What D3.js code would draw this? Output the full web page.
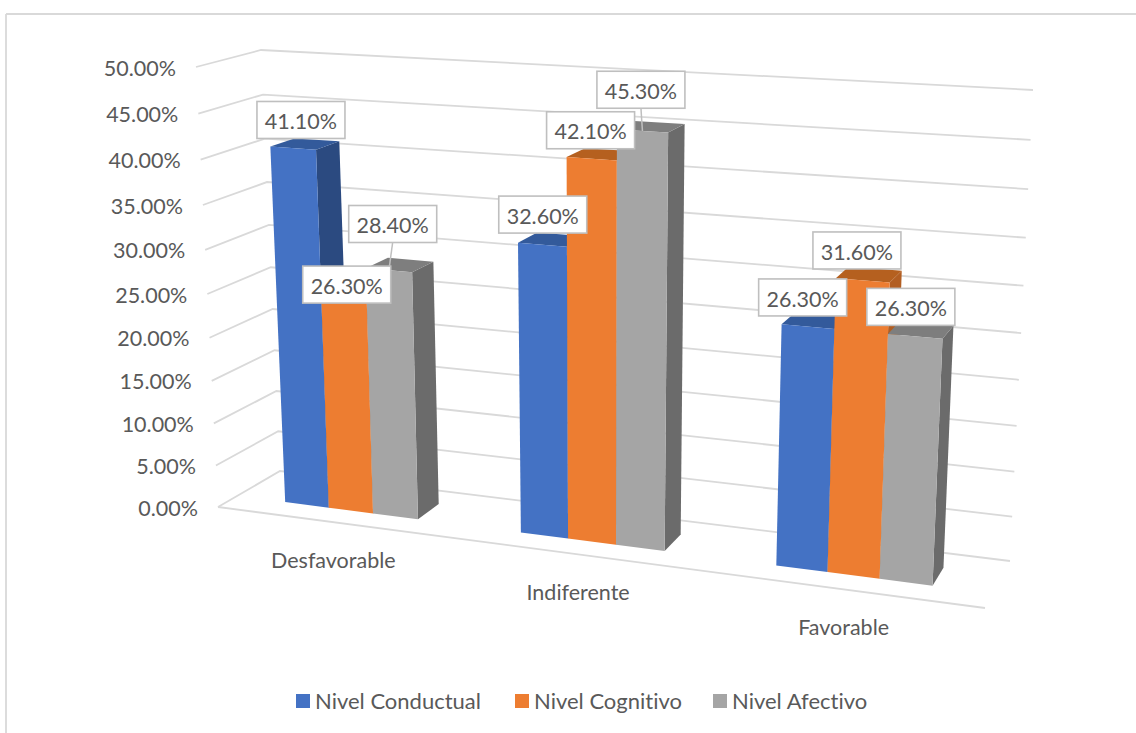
<!DOCTYPE html>
<html><head><meta charset="utf-8"><script src="https://cdn.jsdelivr.net/npm/d3@7"></script>
<style>html,body{margin:0;padding:0;background:#fff}svg{display:block}text{font-family:Lato,sans-serif;fill:#595959;font-variant-ligatures:none}</style></head>
<body><svg id="c" width="1136" height="733"></svg>
<script>
const categories=["Desfavorable","Indiferente","Favorable"];
const seriesNames=["Nivel Conductual","Nivel Cognitivo","Nivel Afectivo"];
const nivelConductual=[41.1,32.6,26.3];
const nivelCognitivo=[26.3,42.1,31.6];
const nivelAfectivo=[28.4,45.3,26.3];
const seriesValues=[nivelConductual,nivelCognitivo,nivelAfectivo];
const yTicks=d3.range(0,55,5);
const labelOffsets=[[[-4,-24],[-9,-25],[-12,-23]],[[-8,5],[-10,-24],[-12,-24]],[[-7,-41],[-10,-37],[-10,-23]]];
const leaders=[[2,0],[2,1]];
const colors=["#4472C4","#ED7D31","#A5A5A5"],sides=["#2B4A80","#B25E22","#6B6B6B"],tops=["#335A9B","#B5601F","#7E7E7E"];
const warp=r=>t=>t*r/(t*r+1-t);
const uS=d3.scaleBand().domain(categories).range([0,1]).paddingInner(.427).paddingOuter(.2135);
const vS=d3.scaleLinear().domain([0,50]).range([0,1]);
const wu=warp(.885),wv=warp(.938),d0=.31,d1=.70;
const C={fb:[[218,507],[196,67]],fB:[[985,608],[1008,112]],bb:[[280,471],[261,50]],bB:[[1010,561],[1033,90]]};
const L=(a,b,t)=>a+(b-a)*t;
function P(u,val,d){const t=wu(u),v=wv(vS(val));
 return [0,1].map(i=>{const fl=L(C.fb[0][i],C.fb[1][i],v),fr=L(C.fB[0][i],C.fB[1][i],v),bl=L(C.bb[0][i],C.bb[1][i],v),br=L(C.bB[0][i],C.bB[1][i],v);
 return L(L(fl,bl,d),L(fr,br,d),t);});}
const svg=d3.select("#c");
const line=d3.line();
const hair=(a,b)=>svg.append("line").attr("x1",a[0]).attr("y1",a[1]).attr("x2",b[0]).attr("y2",b[1]).attr("stroke","#D9D9D9").attr("stroke-width",1.8);
hair([6,14],[1136,14]);hair([6,14],[6,733]);
yTicks.forEach(v=>{
 svg.append("path").attr("d",line([P(0,v,0),P(0,v,1),P(1,v,1)])).attr("fill","none").attr("stroke","#D9D9D9").attr("stroke-width",1.8);
 const p=P(0,v,0);
 svg.append("text").attr("x",p[0]-20).attr("y",p[1]+1).attr("dy",".35em").attr("text-anchor","end").attr("font-size",21.5).text(v.toFixed(2)+"%");
});
hair(P(0,0,0),P(1,0,0));
const inner=c=>d3.scaleBand().domain(seriesNames).range([uS(c),uS(c)+uS.bandwidth()]);
categories.forEach((c,ci)=>{
 const sc=inner(c);
 const g=svg.append("g");
 seriesNames.forEach((s,si)=>{
  const v=seriesValues[si][ci],a=sc(s),b=a+sc.bandwidth();
  const face=(pts,f)=>g.append("path").attr("d",line(pts)+"Z").attr("fill",f);
  face([P(b,0,d0),P(b,0,d1),P(b,v,d1),P(b,v,d0)],sides[si]);
  face([P(a,v,d0),P(b,v,d0),P(b,v,d1),P(a,v,d1)],tops[si]);
  face([P(a,0,d0),P(b,0,d0),P(b,v,d0),P(a,v,d0)],colors[si]);
 });
 const m=P(uS(c)+uS.bandwidth()/2,0,0);
 svg.append("text").attr("x",m[0]).attr("y",m[1]+38).attr("dy",".35em").attr("text-anchor","middle").attr("font-size",21.5).text(c);
});
const labelPos=(si,ci)=>{const c=categories[ci],sc=inner(c),s=seriesNames[si],v=seriesValues[si][ci],m=sc(s)+sc.bandwidth()/2,a=P(m,v,(d0+d1)/2),o=labelOffsets[si][ci];return {x:a[0]+o[0],y:a[1]+o[1],end:P(m,v,d0),v};};
leaders.forEach(([si,ci])=>{const p=labelPos(si,ci);
 svg.append("line").attr("x1",p.x).attr("y1",p.y+18).attr("x2",p.end[0]).attr("y2",p.end[1]).attr("stroke","#BFBFBF").attr("stroke-width",1.5);});
seriesNames.forEach((s,si)=>categories.forEach((c,ci)=>{
 const p=labelPos(si,ci);
 svg.append("rect").attr("x",p.x-44).attr("y",p.y-18.5).attr("width",88).attr("height",37).attr("fill","#fff").attr("stroke","#BFBFBF").attr("stroke-width",1.6);
 svg.append("text").attr("x",p.x).attr("y",p.y+1).attr("dy",".38em").attr("text-anchor","middle").attr("font-size",21.5).text(p.v.toFixed(2)+"%");
}));
const legendX=d3.scaleOrdinal().domain(seriesNames).range([296,515,713]);
seriesNames.forEach((s,i)=>{
 svg.append("rect").attr("x",legendX(s)).attr("y",694).attr("width",14).attr("height",14).attr("fill",colors[i]);
 svg.append("text").attr("x",legendX(s)+19).attr("y",701).attr("dy",".35em").attr("font-size",22).text(s);
});
</script></body></html>
